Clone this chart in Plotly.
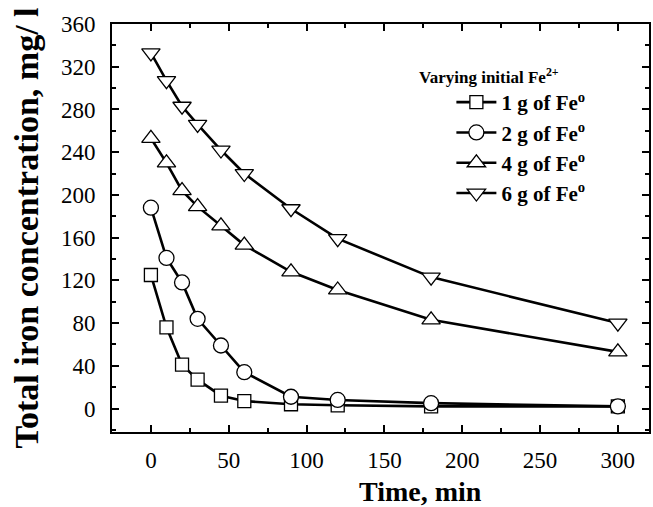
import plotly.graph_objects as go

time_min = [0, 10, 20, 30, 45, 60, 90, 120, 180, 300]
fe_1g = [125, 76, 41, 27, 12, 7, 4, 3, 2, 2]
fe_2g = [188, 141, 118, 84, 59, 34, 11, 8, 5, 2]
fe_4g = [253, 230, 204, 189, 171, 153, 128, 111, 83, 53]
fe_6g = [333, 307, 283, 266, 242, 220, 187, 159, 123, 80]

legend_title = "<b>Varying initial Fe<sup>2+</sup></b>"
x_title = "<b>Time, min</b>"
y_title = "<b>Total iron concentration, mg/ l</b>"
series = [
    ("1 g of Fe<sup>o</sup>", fe_1g, "square", 13),
    ("2 g of Fe<sup>o</sup>", fe_2g, "circle", 15),
    ("4 g of Fe<sup>o</sup>", fe_4g, "triangle-up", 16),
    ("6 g of Fe<sup>o</sup>", fe_6g, "triangle-down", 16),
]

FONT = "Liberation Serif"
L, R, T, B = 112, 651, 24, 432
PW, PH = R - L, B - T

fig = go.Figure()
for name, vals, sym, sz in series:
    fig.add_trace(go.Scatter(
        x=time_min, y=vals, name="<b>" + name + "</b>", mode="lines+markers",
        line=dict(color="black", width=2.6),
        marker=dict(symbol=sym, size=sz, color="white",
                    line=dict(color="black", width=1.3)),
    ))

axis_common = dict(
    showline=True, linecolor="black", linewidth=2, mirror="allticks",
    ticks="inside", ticklen=7, tickwidth=2, tickcolor="black",
    showgrid=False, zeroline=False,
    tickfont=dict(family=FONT, size=23, color="black"),
)

fig.update_xaxes(
    range=[-25, 320], tickmode="array", tickvals=[0, 50, 100, 150, 200, 250, 300],
    minor=dict(ticks="inside", ticklen=4, tickwidth=2, tickcolor="black", dtick=25),
    ticklabelstandoff=6,
    **axis_common,
)
fig.update_yaxes(
    range=[-22, 360], tickmode="array", tickvals=[0, 40, 80, 120, 160, 200, 240, 280, 320, 360],
    minor=dict(ticks="inside", ticklen=4, tickwidth=2, tickcolor="black", dtick=20),
    ticklabelstandoff=10,
    title=dict(text=y_title, font=dict(family=FONT, size=34, color="black"), standoff=12),
    **axis_common,
)

# x-axis title (offset to the right of centre, as in the reference)
fig.add_annotation(
    text=x_title, xref="paper", yref="paper",
    x=(422 - L) / PW, y=(B - 491) / PH, xanchor="center", yanchor="middle",
    showarrow=False, font=dict(family=FONT, size=28, color="black"),
)
# legend heading
fig.add_annotation(
    text=legend_title, xref="paper", yref="paper",
    x=(418 - L) / PW, y=(B - 76) / PH, xanchor="left", yanchor="middle",
    showarrow=False, font=dict(family=FONT, size=17, color="black"),
)

fig.update_layout(
    width=653, height=507,
    margin=dict(l=L, r=653 - R, t=T, b=507 - B),
    paper_bgcolor="white", plot_bgcolor="white",
    showlegend=True,
    legend=dict(
        x=0.632, y=(B - 82) / PH, xanchor="left", yanchor="top",
        bgcolor="rgba(0,0,0,0)",
        font=dict(family=FONT, size=21, color="black"),
        tracegroupgap=0, itemwidth=40,
    ),
)

fig.write_html("out.html")
